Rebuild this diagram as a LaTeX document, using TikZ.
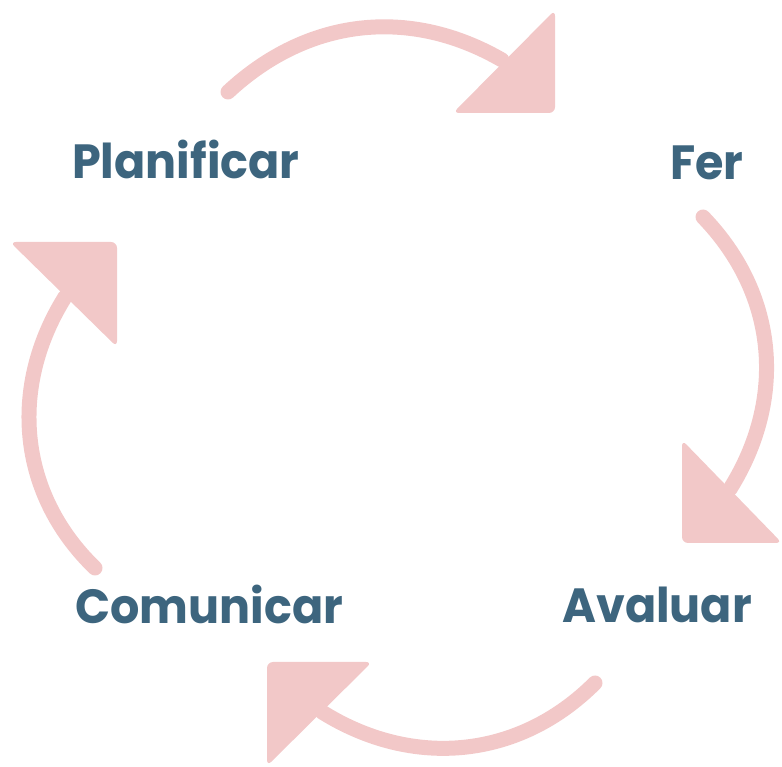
\documentclass[tikz,border=0pt]{standalone}
\usepackage{fontspec}
\setmainfont{Poppins}

\definecolor{rosa}{HTML}{F2C8C8}
\definecolor{blau}{HTML}{3D657E}

\tikzset{
	arcline/.style={draw=rosa, line width=15pt, line cap=round},
	arrowhead/.style={fill=rosa, rounded corners=6pt},
	steplabel/.style={text=blau, font=\fontsize{48}{48}\selectfont\bfseries, xscale=0.96, inner sep=0pt, anchor=base west}
}

\begin{document}
\begin{tikzpicture}[x=1pt,y=1pt]

	\useasboundingbox (0,0) rectangle (782,766);

	% labels
	\node[steplabel] (plan) at (72,587) {Planificar};
	\node[steplabel] (fer) at (670,586) {Fer};
	\node[steplabel] (aval) at (562,143) {Avaluar};
	\node[steplabel] (comu) at (75,142) {Comunicar};

	% ends of the arcs
	\coordinate (topTail) at (228,674);
	\coordinate (topHead) at (502,706);
	\coordinate (rightTail) at (703,549);
	\coordinate (rightHead) at (730,277);
	\coordinate (bottomTail) at (595,83);
	\coordinate (bottomHead) at (322,54);
	\coordinate (leftTail) at (95,198);
	\coordinate (leftHead) at (65,469);

	\draw [arcline] (topTail) to [out=43,in=150] (topHead);
	\fill [arrowhead] (555,756) -- (453,653) -- (555,653) -- cycle;

	\draw [arcline] (rightTail) to [out=-46,in=58] (rightHead);
	\fill [arrowhead] (682,326) -- (682,223) -- (782,223) -- cycle;

	\draw [arcline] (bottomTail) to [out=-135,in=-32] (bottomHead);
	\fill [arrowhead] (267,104) -- (372,104) -- (267,0) -- cycle;

	\draw [arcline] (leftTail) to [out=136,in=238] (leftHead);
	\fill [arrowhead] (10,524) -- (117,524) -- (117,419) -- cycle;
\end{tikzpicture}
\end{document}
